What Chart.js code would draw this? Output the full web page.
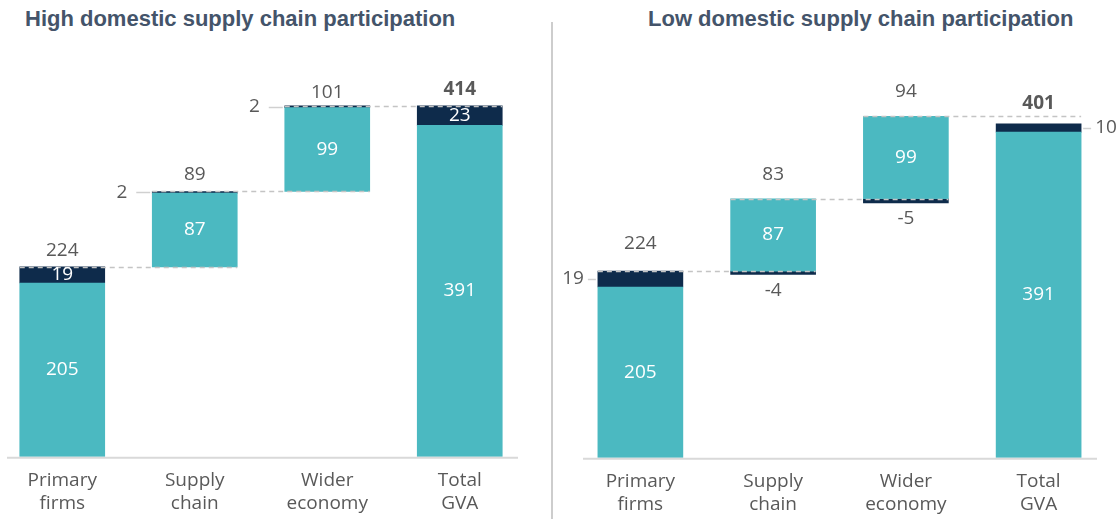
<!DOCTYPE html>
<html lang="en">
<head>
<meta charset="UTF-8">
<title>GVA by domestic supply chain participation</title>
<script src="https://cdn.jsdelivr.net/npm/chart.js"></script>
<style>
    body {
        margin: 0;
        background: #ffffff;
        width: 1119px;
        height: 519px;
        overflow: hidden;
        position: relative;
    }
    .title {
        position: absolute;
        top: 6px;
        font-family: 'Liberation Sans', Arial, sans-serif;
        font-weight: bold;
        font-size: 22px;
        color: #44546a;
        white-space: nowrap;
    }
    #titleHigh { left: 25px; }
    #titleLow { left: 648px; }
    .divider {
        position: absolute;
        left: 551px;
        top: 22px;
        width: 2px;
        height: 497px;
        background: #cdcdcd;
    }
    .box {
        position: absolute;
        top: 0;
    }
    #boxHigh { left: -6px; }
    #boxLow { left: 556px; }
</style>
</head>
<body>
    <div class="title" id="titleHigh">High domestic supply chain participation</div>
    <div class="title" id="titleLow">Low domestic supply chain participation</div>
    <div class="divider"></div>
    <div class="box" id="boxHigh"><canvas id="highChart" width="540" height="532"></canvas></div>
    <div class="box" id="boxLow"><canvas id="lowChart" width="563" height="532"></canvas></div>
<script>
    const categories = [['Primary', 'firms'], ['Supply', 'chain'], ['Wider', 'economy'], ['Total', 'GVA']];

    // high participation
    const highCore = [205, 87, 99, 391];
    const highExtra = [19, 2, 2, 23];
    const highTotals = [224, 89, 101, 414];

    // low participation
    const lowCore = [205, 87, 99, 391];
    const lowExtra = [19, -4, -5, 10];
    const lowTotals = [224, 83, 94, 401];

    const TEAL = '#4bb9c1';
    const NAVY = '#0e2b4b';
    const GREY_TEXT = '#595959';
    const LABEL_FONT = "'Open Sans', sans-serif";

    // turn the step values into floating [from, to] ranges
    function buildRanges(core, extra) {
        let coreBars = [], extraBars = [], levels = [];
        let level = 0;
        for (let i = 0; i < core.length; i++) {
            let isTotal = i === core.length - 1;
            let start = (i === 0 || isTotal) ? 0 : level;
            let top = start + core[i];
            coreBars.push([start, top]);
            if (extra[i] >= 0) {
                extraBars.push([top, top + extra[i]]);
            } else {
                extraBars.push([start + extra[i], start]);
            }
            level = Math.max(top, top + extra[i]);
            levels.push(level);
        }
        return { coreBars, extraBars, levels };
    }

    const waterfallLabels = {
        id: 'waterfallLabels',
        afterDatasetsDraw(chart, args, opts) {
            const ctx = chart.ctx;
            const y = chart.scales.y;
            const area = chart.chartArea;
            const core = chart.getDatasetMeta(0).data;
            const extra = chart.getDatasetMeta(1).data;
            ctx.save();

            // baseline
            let y0 = y.getPixelForValue(0) + 1;
            ctx.strokeStyle = '#d9d9d9';
            ctx.lineWidth = 2;
            ctx.beginPath();
            ctx.moveTo(area.left + opts.axisInset[0], y0);
            ctx.lineTo(area.right - opts.axisInset[1], y0);
            ctx.stroke();

            // dashed connectors
            ctx.setLineDash([5, 4]);
            ctx.strokeStyle = '#c4c4c4';
            ctx.lineWidth = 1.5;
            for (let i = 0; i < core.length - 1; i++) {
                let ly = Math.round(y.getPixelForValue(opts.levels[i])) + 0.5;
                ctx.beginPath();
                ctx.moveTo(core[i].x - core[i].width / 2, ly);
                ctx.lineTo(core[i + 1].x + core[i + 1].width / 2, ly);
                ctx.stroke();
            }
            ctx.setLineDash([]);

            ctx.textAlign = 'center';
            ctx.textBaseline = 'middle';

            for (let i = 0; i < core.length; i++) {
                let isTotal = i === core.length - 1;
                let bar = core[i];
                let half = bar.width / 2;

                // step total above the bar
                ctx.fillStyle = GREY_TEXT;
                ctx.font = (isTotal ? 'bold ' : '') + '19px ' + LABEL_FONT;
                ctx.fillText(String(opts.totals[i]), bar.x, y.getPixelForValue(opts.levels[i]) - opts.topGap[i]);

                // core value inside
                ctx.fillStyle = '#ffffff';
                ctx.font = '19px ' + LABEL_FONT;
                ctx.fillText(String(opts.core[i]), bar.x, (bar.y + bar.base) / 2);

                // extra value
                let ex = extra[i];
                let midY = (ex.y + ex.base) / 2;
                let pos = opts.extraPos[i];
                let txt = String(opts.extra[i]);
                if (pos === 'in') {
                    ctx.fillStyle = '#ffffff';
                    ctx.fillText(txt, bar.x, midY);
                } else if (pos === 'below') {
                    ctx.fillStyle = GREY_TEXT;
                    ctx.fillText(txt, bar.x, Math.max(ex.y, ex.base) + 16);
                } else {
                    let dir = pos === 'left' ? -1 : 1;
                    let edge = bar.x + dir * (half + 2);
                    let tickEnd = edge + dir * opts.tickLen;
                    ctx.strokeStyle = '#d0d0d0';
                    ctx.lineWidth = 1.5;
                    ctx.beginPath();
                    ctx.moveTo(edge, Math.round(midY) + 0.5);
                    ctx.lineTo(tickEnd, Math.round(midY) + 0.5);
                    ctx.stroke();
                    ctx.fillStyle = GREY_TEXT;
                    ctx.textAlign = pos === 'left' ? 'right' : 'left';
                    ctx.fillText(txt, tickEnd + dir * opts.labelGap, midY);
                    ctx.textAlign = 'center';
                }
            }
            ctx.restore();
        }
    };

    function makeChart(canvasId, core, extra, totals, setup) {
        let r = buildRanges(core, extra);
        let ctx = document.getElementById(canvasId).getContext('2d');
        return new Chart(ctx, {
            type: 'bar',
            data: {
                labels: categories,
                datasets: [
                    { data: r.coreBars, backgroundColor: TEAL, grouped: false, barThickness: 85 },
                    { data: r.extraBars, backgroundColor: NAVY, grouped: false, barThickness: 85 }
                ]
            },
            options: {
                responsive: false,
                animation: false,
                layout: { padding: setup.padding },
                plugins: {
                    legend: { display: false },
                    tooltip: { enabled: false },
                    waterfallLabels: {
                        levels: r.levels,
                        totals: totals,
                        core: core,
                        extra: extra,
                        extraPos: setup.extraPos,
                        topGap: setup.topGap,
                        tickLen: setup.tickLen,
                        labelGap: setup.labelGap,
                        axisInset: setup.axisInset
                    }
                },
                scales: {
                    x: {
                        grid: { display: false, drawTicks: false },
                        border: { display: false },
                        ticks: {
                            color: GREY_TEXT,
                            padding: 12,
                            font: { family: LABEL_FONT, size: 19, lineHeight: 1.22 }
                        }
                    },
                    y: {
                        display: false,
                        min: 0,
                        max: 480
                    }
                }
            },
            plugins: [waterfallLabels]
        });
    }

    makeChart('highChart', highCore, highExtra, highTotals, {
        padding: { top: 50, bottom: 5, left: 2, right: 8 },
        extraPos: ['in', 'left', 'left', 'in'],
        topGap: [16, 17, 13, 16],
        tickLen: 14,
        labelGap: 9,
        axisInset: [11, 8]
    });

    makeChart('lowChart', lowCore, lowExtra, lowTotals, {
        padding: { top: 58, bottom: 4, left: 18, right: 14 },
        extraPos: ['left', 'below', 'below', 'right'],
        topGap: [28, 24, 25, 20],
        tickLen: 8,
        labelGap: 4,
        axisInset: [9, 8]
    });
</script>
</body>
</html>
